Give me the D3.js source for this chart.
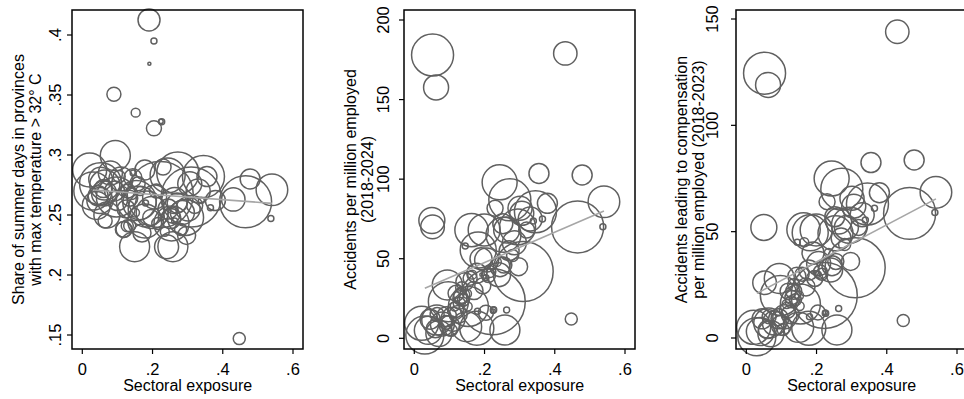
<!DOCTYPE html>
<html>
<head>
<meta charset="utf-8">
<script src="https://cdn.jsdelivr.net/npm/d3@7/dist/d3.min.js"></script>
<style>
  html, body { margin: 0; padding: 0; background: #fff; }
  svg { display: block; }
  text { font-family: "Liberation Sans", Arial, Helvetica, sans-serif; fill: #000; }
</style>
</head>
<body>
<svg id="chart" width="964" height="399"></svg>
<script>
// Provinces: sectoral exposure, employment (thousands, bubble weight)
const exposure = [
  0.052, 0.062, 0.430, 0.478, 0.355, 0.540, 0.537, 0.447, 0.465, 0.310,
  0.222, 0.190, 0.204, 0.191, 0.090, 0.152, 0.204, 0.226, 0.224, 0.050,
  0.052, 0.243, 0.272, 0.379, 0.345, 0.339, 0.365, 0.301, 0.230, 0.294,
  0.199, 0.254, 0.163, 0.094, 0.030, 0.021, 0.040, 0.064, 0.070, 0.092,
  0.097, 0.154, 0.178, 0.149, 0.258, 0.225, 0.180, 0.263, 0.119, 0.135,
  0.130, 0.144, 0.159, 0.178, 0.206, 0.182, 0.145, 0.211, 0.244, 0.255,
  0.263, 0.252, 0.306, 0.330, 0.297, 0.240, 0.117, 0.128, 0.110, 0.100,
  0.125, 0.060, 0.080, 0.045, 0.135, 0.140, 0.115, 0.170, 0.195, 0.215,
  0.285, 0.270, 0.320, 0.280, 0.065, 0.105, 0.150, 0.165, 0.235
];
const employment = [
  729, 258, 226, 165, 165, 413, 15, 60, 1117, 1488,
  1800, 200, 15, 4, 81, 33, 93, 15, 8, 279,
  230, 506, 729, 165, 729, 15, 15, 240, 106, 536,
  423, 506, 460, 372, 597, 478, 324, 372, 279, 165,
  661, 661, 478, 372, 372, 15, 15, 15, 106, 60,
  81, 134, 81, 165, 238, 536, 15, 81, 165, 106,
  279, 165, 238, 238, 134, 238, 106, 60, 238, 165,
  134, 134, 238, 165, 106, 60, 33, 134, 106, 60,
  238, 165, 106, 60, 81, 60, 33, 33, 33
];
// Share of summer days with max temperature > 32° C
const heatShare = [
  0.276, 0.268, 0.263, 0.280, 0.282, 0.271, 0.247, 0.147, 0.261, 0.265,
  0.267, 0.4125, 0.395, 0.376, 0.3506, 0.3353, 0.3222, 0.3278, 0.328, 0.262,
  0.280, 0.283, 0.285, 0.262, 0.282, 0.262, 0.256, 0.255, 0.290, 0.248,
  0.252, 0.243, 0.260, 0.2995, 0.270, 0.2875, 0.258, 0.275, 0.250, 0.270,
  0.265, 0.262, 0.245, 0.2236, 0.2236, 0.248, 0.260, 0.245, 0.238, 0.241,
  0.270, 0.281, 0.276, 0.2875, 0.265, 0.255, 0.285, 0.270, 0.255, 0.250,
  0.262, 0.247, 0.276, 0.270, 0.233, 0.2236, 0.238, 0.241, 0.280, 0.262,
  0.255, 0.272, 0.285, 0.266, 0.264, 0.268, 0.270, 0.235, 0.248, 0.243,
  0.252, 0.260, 0.258, 0.238, 0.245, 0.282, 0.252, 0.270, 0.236
];
// Accidents per million employed (2018-2024)
const accidents = [
  178, 157.6, 179, 102.6, 103.6, 85.8, 70.1, 12.1, 70, 42,
  23, 50, 38, 40, 10, 20, 16, 18, 17, 74,
  70, 98, 87, 84.8, 79.5, 73.7, 75, 81.7, 81.7, 70,
  68, 65, 68, 33.5, 2, 9.4, 5, 11.5, 3, 13.6,
  23, 20, 6.3, 7.3, 5.2, 17.8, 17, 17.8, 28.3, 31.8,
  25.5, 35.6, 37.7, 40.9, 49.2, 55.5, 58, 39.4, 45, 46,
  68, 72, 78.5, 75, 45, 40, 18, 22, 12, 8,
  15, 6, 9, 12, 27, 24, 20, 30, 33, 42,
  60, 55, 68, 52, 15, 5, 28, 40, 48
];
// Accidents leading to compensation per million employed (2018-2023)
const compensated = [
  124.5, 119, 144, 83.7, 82.5, 68.5, 59, 8.2, 58.6, 33,
  20, 40, 30, 31, 9, 15, 12, 11.6, 12, 52,
  26, 75, 70, 68.3, 63, 55.5, 61, 65.7, 64.1, 53,
  50.8, 49.2, 51, 28, 0.6, 5, 3, 7, 2, 9,
  20, 16, 4.6, 5, 3.8, 11.6, 10, 13.9, 22, 25,
  19, 29, 30, 32, 35, 49.5, 45, 31, 34, 36,
  55, 57, 62, 58, 36, 32, 13, 17, 10, 6,
  11, 4, 7, 9, 22, 18, 16, 24, 28, 30,
  52, 47, 52, 44, 10, 4, 20, 45, 40
];

// Fitted lines (endpoints at the range of exposure)
const fitExposure = [0.03, 0.54];
const fitHeat = [0.2708, 0.2597];
const fitAccidents = [31.4, 80.0];
const fitCompensated = [21.0, 65.4];

// Axis ticks
const xTicks = [0, 0.2, 0.4, 0.6];
const heatTicks = [0.15, 0.2, 0.25, 0.3, 0.35, 0.4];
const accidentTicks = [0, 50, 100, 150, 200];
const compensatedTicks = [0, 50, 100, 150];

const xTitle = "Sectoral exposure";

const fmtShare = v => (v === 0 ? "0" : d3.format(".2~f")(v).replace(/^0\./, "."));
const fmtInt = d3.format("d");

const panels = [
  {
    left: 72, top: 10, yDomain: [0.15, 0.4], yRange: [335, 35],
    values: heatShare, ticks: heatTicks, fmt: fmtShare, fit: fitHeat,
    tickLabelX: 55, titleX: [18.3, 35.7],
    title: ["Share of summer days in provinces", "with max temperature > 32° C"]
  },
  {
    left: 404, top: 10, yDomain: [0, 200], yRange: [338.3, 20],
    values: accidents, ticks: accidentTicks, fmt: fmtInt, fit: fitAccidents,
    tickLabelX: 383.3, titleX: [350.7, 367],
    title: ["Accidents per million employed", "(2018-2024)"]
  },
  {
    left: 736, top: 10, yDomain: [0, 150], yRange: [338, 19],
    values: compensated, ticks: compensatedTicks, fmt: fmtInt, fit: fitCompensated,
    tickLabelX: 712.5, titleX: [681.3, 698.3],
    title: ["Accidents leading to compensation", "per million employed (2018-2023)"]
  }
];

const frameW = 231, frameBottom = 349;
const svg = d3.select("#chart");
const r = d3.scaleSqrt().domain([0, 1800]).range([0, 33]);
const idx = d3.range(exposure.length);

panels.forEach(p => {
  const x = d3.scaleLinear().domain([0, 0.6]).range([p.left + 10.3, p.left + 221]);
  const y = d3.scaleLinear().domain(p.yDomain).range(p.yRange);
  const g = svg.append("g");

  // bubbles, hollow, weighted by employment
  g.append("g").selectAll("circle").data(idx).join("circle")
    .attr("cx", i => x(exposure[i]))
    .attr("cy", i => y(p.values[i]))
    .attr("r", i => r(employment[i]))
    .attr("fill", "none")
    .attr("stroke", "#606060")
    .attr("stroke-width", 1.5);

  // fitted line
  g.append("line")
    .attr("x1", x(fitExposure[0])).attr("y1", y(p.fit[0]))
    .attr("x2", x(fitExposure[1])).attr("y2", y(p.fit[1]))
    .attr("stroke", "#a6a6a6").attr("stroke-width", 1.6);

  // plot frame
  g.append("rect")
    .attr("x", p.left).attr("y", p.top)
    .attr("width", frameW).attr("height", frameBottom - p.top)
    .attr("fill", "none").attr("stroke", "#000").attr("stroke-width", 1.5);

  // x axis ticks
  const xa = g.append("g");
  xa.selectAll("line").data(xTicks).join("line")
    .attr("x1", d => x(d)).attr("x2", d => x(d))
    .attr("y1", frameBottom).attr("y2", frameBottom + 5)
    .attr("stroke", "#000").attr("stroke-width", 1.2);
  xa.selectAll("text").data(xTicks).join("text")
    .attr("x", d => x(d)).attr("y", 375)
    .attr("text-anchor", "middle").attr("font-size", 16.5)
    .text(d => fmtShare(d));
  g.append("text")
    .attr("x", x(0.3)).attr("y", 390.5)
    .attr("text-anchor", "middle").attr("font-size", 16)
    .text(xTitle);

  // y axis ticks
  const ya = g.append("g");
  ya.selectAll("line").data(p.ticks).join("line")
    .attr("x1", p.left - 5).attr("x2", p.left)
    .attr("y1", d => y(d)).attr("y2", d => y(d))
    .attr("stroke", "#000").attr("stroke-width", 1.2);
  ya.selectAll("text").data(p.ticks).join("text")
    .attr("transform", d => `translate(${p.tickLabelX},${y(d)}) rotate(-90)`)
    .attr("text-anchor", "middle").attr("dy", "0.36em").attr("font-size", 16.5)
    .text(d => p.fmt(d));

  // y title (two lines)
  p.title.forEach((t, k) => {
    g.append("text")
      .attr("transform", `translate(${p.titleX[k]},179.5) rotate(-90)`)
      .attr("text-anchor", "middle").attr("dy", "0.36em").attr("font-size", 16)
      .text(t);
  });
});
</script>
</body>
</html>
